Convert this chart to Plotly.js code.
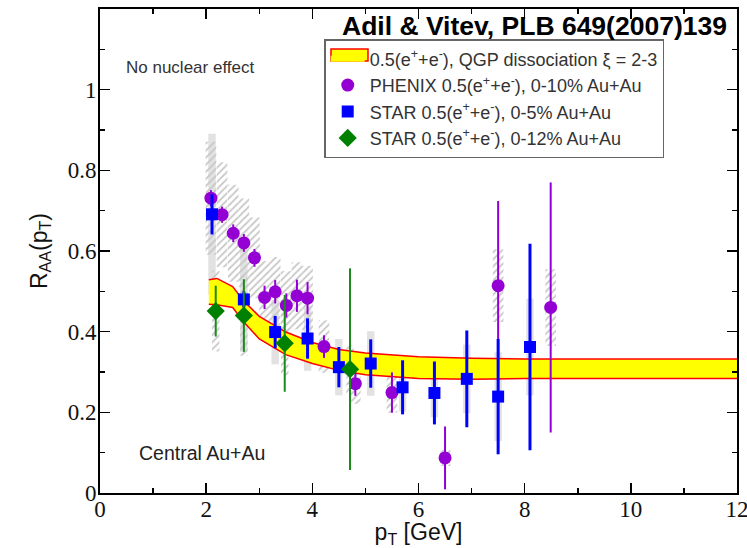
<!DOCTYPE html>
<html>
<head>
<meta charset="utf-8">
<script src="https://cdn.plot.ly/plotly-3.0.1.min.js"></script>
<style>html,body{margin:0;padding:0;background:#fff;}</style>
</head>
<body>
<div id="chart" style="width:747px;height:548px;"></div>
<script>
// Theory band: QGP dissociation xi = 2-3
const theoryPt    = [2.05, 2.2, 2.5, 2.7, 3.0, 3.5, 4.0, 4.5, 5.0, 6.0, 7.0, 8.0, 10.0, 12.0];
const theoryUpper = [0.529, 0.532, 0.512, 0.477, 0.438, 0.399, 0.373, 0.356, 0.347, 0.338, 0.334, 0.332, 0.332, 0.332];
const theoryLower = [0.468, 0.467, 0.460, 0.425, 0.382, 0.343, 0.321, 0.304, 0.293, 0.284, 0.282, 0.284, 0.284, 0.284];

// PHENIX 0-10% Au+Au
const phenixPt   = [2.09, 2.30, 2.51, 2.71, 2.91, 3.10, 3.30, 3.51, 3.71, 3.91, 4.22, 4.81, 5.50, 6.50, 7.50, 8.49];
const phenixRaa  = [0.731, 0.690, 0.644, 0.620, 0.583, 0.485, 0.499, 0.465, 0.489, 0.483, 0.363, 0.271, 0.249, 0.087, 0.514, 0.460];
const phenixStat = [0.02, 0.02, 0.022, 0.022, 0.022, 0.029, 0.029, 0.03, 0.04, 0.04, 0.028, 0.03, 0.05, 0.078, 0.21, 0.31];
const phenixSys  = [0.14, 0.13, 0.12, 0.11, 0.10, 0.09, 0.086, 0.085, 0.083, 0.08, 0.065, 0.05, 0.05, 0.02, 0.09, 0.095];

// STAR 0-5% Au+Au
const star5Pt   = [2.11, 2.71, 3.30, 3.91, 4.50, 5.10, 5.70, 6.30, 6.91, 7.50, 8.10];
const star5Raa  = [0.691, 0.480, 0.399, 0.383, 0.312, 0.321, 0.262, 0.248, 0.283, 0.239, 0.362];
const star5Stat = [0.05, 0.02, 0.04, 0.05, 0.05, 0.06, 0.067, 0.078, 0.12, 0.143, 0.256];
const star5Sys  = [0.20, 0.13, 0.08, 0.08, 0.07, 0.08, 0.06, 0.06, 0.085, 0.11, 0.12];

// STAR 0-12% Au+Au
const star12Pt   = [2.18, 2.71, 3.48, 4.71];
const star12Raa  = [0.451, 0.440, 0.371, 0.307];
const star12Stat = [0.063, 0.09, 0.12, 0.25];
const star12Sys  = [0.10, 0.10, 0.08, 0.06];

function sysBox(pt, val, sys, width, hatched) {
  return {
    type: 'bar', x: pt,
    y: sys.map(s => 2 * s),
    base: val.map((v, i) => v - sys[i]),
    width: width,
    marker: hatched
      ? {color: 'rgba(0,0,0,0)', line: {width: 0},
         pattern: {shape: '/', fgcolor: '#c8c8c8', bgcolor: 'rgba(255,255,255,0)', size: 5, solidity: 0.35}}
      : {color: '#e2e2e2', line: {width: 0}},
    showlegend: false, hoverinfo: 'skip'
  };
}

const bandX = theoryPt.concat(theoryPt.slice().reverse());
const bandY = theoryUpper.concat(theoryLower.slice().reverse());
const SANS = 'Liberation Sans, Arial, sans-serif';

const traces = [
  sysBox(star5Pt, star5Raa, star5Sys, 0.14, false),
  sysBox(phenixPt, phenixRaa, phenixSys, 0.2, true),
  sysBox(star12Pt, star12Raa, star12Sys, 0.14, true),
  {
    type: 'scatter', mode: 'none', x: bandX, y: bandY,
    fill: 'toself', fillcolor: '#ffff00',
    name: '0.5(e<sup>+</sup>+e<sup>-</sup>), QGP dissociation \u03be = 2-3',
    hoverinfo: 'skip'
  },
  {type: 'scatter', mode: 'lines', x: theoryPt, y: theoryUpper, line: {color: '#ff0000', width: 1.5}, showlegend: false, hoverinfo: 'skip'},
  {type: 'scatter', mode: 'lines', x: theoryPt, y: theoryLower, line: {color: '#ff0000', width: 1.5}, showlegend: false, hoverinfo: 'skip'},
  {
    type: 'scatter', mode: 'markers', x: phenixPt, y: phenixRaa,
    marker: {symbol: 'circle', size: 13, color: '#9400d3'},
    error_y: {type: 'data', array: phenixStat, color: '#9400d3', thickness: 2, width: 0},
    name: 'PHENIX 0.5(e<sup>+</sup>+e<sup>-</sup>), 0-10% Au+Au'
  },
  {
    type: 'scatter', mode: 'markers', x: star5Pt, y: star5Raa,
    marker: {symbol: 'square', size: 12, color: '#0000ff'},
    error_y: {type: 'data', array: star5Stat, color: '#0000ff', thickness: 3, width: 0},
    name: 'STAR 0.5(e<sup>+</sup>+e<sup>-</sup>), 0-5% Au+Au'
  },
  {
    type: 'scatter', mode: 'markers', x: star12Pt, y: star12Raa,
    marker: {symbol: 'diamond', size: 14, color: '#008000'},
    error_y: {type: 'data', array: star12Stat, color: '#1a8a1a', thickness: 2, width: 0},
    name: 'STAR 0.5(e<sup>+</sup>+e<sup>-</sup>), 0-12% Au+Au'
  }
];

const axisCommon = {
  showgrid: false, zeroline: false,
  showline: true, linecolor: '#000', linewidth: 2, mirror: 'ticks',
  ticks: 'inside', ticklen: 10, tickwidth: 1.5, tickcolor: '#000',
  tickfont: {family: 'Liberation Serif, Times New Roman, serif', size: 23, color: '#111'}
};

const layout = {
  width: 747, height: 548,
  margin: {l: 100, r: 10, t: 9, b: 55},
  paper_bgcolor: '#fff', plot_bgcolor: '#fff',
  barmode: 'overlay',
  showlegend: true,
  legend: {
    x: 0.352, y: 0.938, xanchor: 'left', yanchor: 'top',
    bgcolor: 'rgba(255,255,255,0)', bordercolor: '#666', borderwidth: 1.5,
    itemwidth: 34,
    font: {family: SANS, size: 18, color: '#333'},
    traceorder: 'normal', tracegroupgap: 0
  },
  xaxis: Object.assign({}, axisCommon, {
    range: [0, 12], dtick: 2, tick0: 0,
    ticklabeloverflow: 'allow', ticklabelstandoff: -6,
    minor: {dtick: 1, ticks: 'inside', ticklen: 5, tickcolor: '#000', tickwidth: 1.5},
    title: {text: 'p<sub>T</sub> [GeV]', font: {family: SANS, size: 23, color: '#111'}, standoff: 4}
  }),
  yaxis: Object.assign({}, axisCommon, {
    range: [0, 1.2], dtick: 0.2, tick0: 0, ticklabelstandoff: -3,
    minor: {dtick: 0.1, ticks: 'inside', ticklen: 5, tickcolor: '#000', tickwidth: 1.5},
    title: {text: 'R<sub>AA</sub>(p<sub>T</sub>)', font: {family: SANS, size: 23, color: '#111'}, standoff: 14}
  }),
  shapes: [
    // legend key frame for the theory band
    {type: 'rect', xref: 'paper', yref: 'paper', layer: 'above',
     x0: 0.3626, x1: 0.4207, y0: 0.8926, y1: 0.9174,
     fillcolor: '#ffff00', line: {color: '#ff0000', width: 1.5}}
  ],
  annotations: [
    {text: '<b>Adil & Vitev, PLB 649(2007)139</b>', xref: 'paper', yref: 'paper',
     x: 0.987, y: 0.965, xanchor: 'right', yanchor: 'middle', showarrow: false,
     font: {family: SANS, size: 26.5, color: '#000'}},
    {text: 'No nuclear effect', xref: 'paper', yref: 'paper',
     x: 0.038, y: 0.88, xanchor: 'left', yanchor: 'middle', showarrow: false,
     font: {family: SANS, size: 17, color: '#333'}},
    {text: 'Central Au+Au', xref: 'paper', yref: 'paper',
     x: 0.058, y: 0.083, xanchor: 'left', yanchor: 'middle', showarrow: false,
     font: {family: SANS, size: 19.5, color: '#222'}}
  ]
};

Plotly.newPlot('chart', traces, layout, {displayModeBar: false, staticPlot: true});
</script>
</body>
</html>
